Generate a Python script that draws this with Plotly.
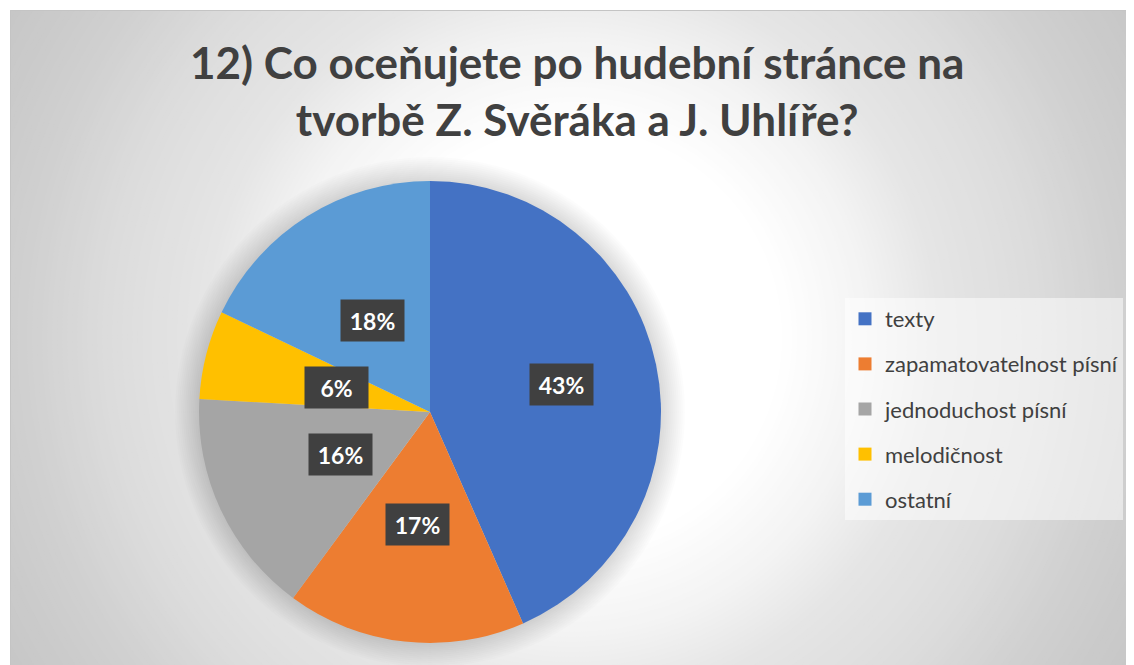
import math
import plotly.graph_objects as go

# ---- data ----
categories = ["texty", "zapamatovatelnost písní", "jednoduchost písní", "melodičnost", "ostatní"]
values = [43.4, 16.7, 15.8, 6.2, 17.9]
colors = ["#4472C4", "#ED7D31", "#A5A5A5", "#FFC000", "#5B9BD5"]
title_lines = ["12) Co oceňujete po hudební stránce na", "tvorbě Z. Svěráka a J. Uhlíře?"]

# ---- layout constants (page pixels) ----
PAGE_W, PAGE_H = 1134, 665
OFF = 8                               # default body margin of the html page
W, H = PAGE_W - OFF, PAGE_H - OFF     # figure size
CX, CY, R = 430, 412, 231             # pie centre / radius (page px)
GX, GY = 572, 337                     # centre of background radial gradient
label_radius = [0.58, 0.49, 0.43, 0.42, 0.47]   # label distance (fraction of radius)
FONT = "Lato"
TXT = "#404040"


def fx(px):
    return (px - OFF) / W


def fy(py):
    return 1 - (py - OFF) / H


fig = go.Figure()

fig.add_trace(go.Pie(
    labels=categories, values=values, sort=False, direction="clockwise", rotation=0,
    marker=dict(colors=colors, line=dict(width=0)),
    textinfo="none", hoverinfo="label+percent", showlegend=False,
    domain=dict(x=[fx(CX - R), fx(CX + R)], y=[fy(CY + R), fy(CY - R)]),
))

# legend entries (one group each so the spacing can be set)
for cat, col in zip(categories, colors):
    fig.add_trace(go.Scatter(
        x=[None], y=[None], mode="markers", name=cat, legendgroup=cat,
        marker=dict(symbol="square", size=13, color=col), hoverinfo="skip",
    ))

# ---- background: radial gradient built from concentric circles ----
stops = [(0, 255), (210, 255), (300, 243), (370, 229), (460, 221), (560, 207), (660, 198), (720, 195)]


def grey(r):
    for (r0, g0), (r1, g1) in zip(stops[:-1], stops[1:]):
        if r0 <= r <= r1:
            return int(round(g0 + (g1 - g0) * (r - r0) / (r1 - r0)))
    return stops[-1][1]


shapes = []
for r in range(720, 0, -5):
    g = grey(r)
    shapes.append(dict(type="circle", xref="paper", yref="paper", layer="below",
                       x0=fx(GX - r), x1=fx(GX + r), y0=fy(GY + r), y1=fy(GY - r),
                       fillcolor=f"rgb({g},{g},{g})", line=dict(width=0)))
# white page margins top/left
shapes.append(dict(type="rect", xref="paper", yref="paper", layer="below",
                   x0=-0.05, x1=1.05, y0=fy(10), y1=1.05, fillcolor="white", line=dict(width=0)))
shapes.append(dict(type="rect", xref="paper", yref="paper", layer="below",
                   x0=-0.05, x1=fx(10), y0=-0.05, y1=1.05, fillcolor="white", line=dict(width=0)))
# chart-area border
shapes.append(dict(type="rect", xref="paper", yref="paper", layer="below",
                   x0=fx(10.5), x1=fx(1133.5), y0=-0.05, y1=fy(10.5),
                   fillcolor="rgba(0,0,0,0)", line=dict(width=1, color="#c4c4c4")))
# soft shadow around the pie
for k in range(12, 0, -1):
    rr = R + 2 * k
    shapes.append(dict(type="circle", xref="paper", yref="paper", layer="below",
                       x0=fx(CX - rr), x1=fx(CX + rr), y0=fy(CY + rr), y1=fy(CY - rr),
                       fillcolor="rgba(0,0,0,0.01)", line=dict(width=0)))

# ---- data labels (dark boxes), positioned from the slice angles ----
annotations = []
total = sum(values)
cum = 0.0
for v, lr in zip(values, label_radius):
    mid = (cum + v / 2) / total * 2 * math.pi
    cum += v
    rr = lr * R
    px = CX + rr * math.sin(mid)
    py = CY - rr * math.cos(mid)
    annotations.append(dict(
        x=fx(px), y=fy(py), xref="paper", yref="paper", showarrow=False,
        text=f"<b>{round(100 * v / total)}%</b>",
        font=dict(family=FONT, size=23, color="white"),
        bgcolor="#404040", borderpad=6, width=51, height=29,
        xanchor="center", yanchor="middle",
    ))

# title (two centred lines)
annotations.append(dict(
    x=fx(577), y=fy(91), xref="paper", yref="paper", showarrow=False,
    text="<b>" + "<br>".join(title_lines) + "</b>",
    font=dict(family=FONT, size=44, color=TXT),
    xanchor="center", yanchor="middle", align="center",
))

fig.update_layout(
    width=W, height=H, autosize=False,
    margin=dict(l=0, r=0, t=0, b=0),
    paper_bgcolor="white", plot_bgcolor="rgba(0,0,0,0)",
    xaxis=dict(visible=False), yaxis=dict(visible=False),
    legend=dict(x=fx(845), y=fy(298), xanchor="left", yanchor="top",
                bgcolor="rgba(255,255,255,0.5)", borderwidth=0,
                font=dict(family=FONT, size=22, color=TXT),
                traceorder="grouped", tracegroupgap=13.5, itemwidth=30),
    shapes=shapes,
    annotations=annotations,
)

fig.write_html("out.html")
